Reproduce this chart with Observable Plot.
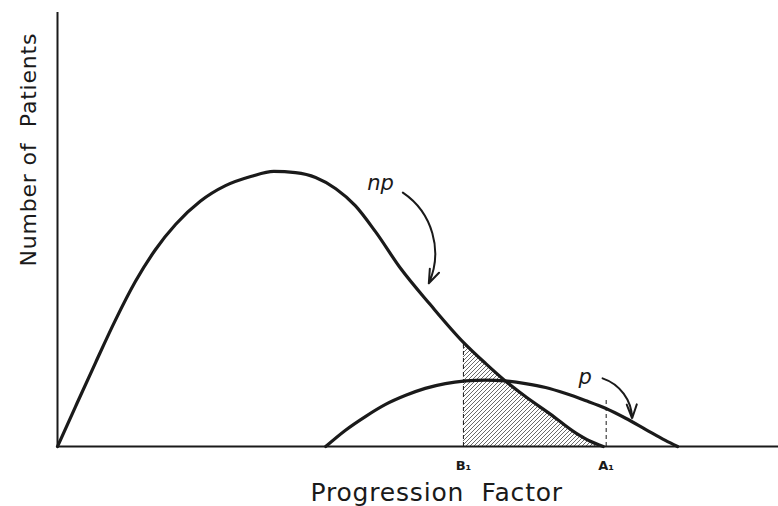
<!DOCTYPE html>
<html>
<head>
<meta charset="utf-8">
<script src="https://cdn.jsdelivr.net/npm/d3@7"></script>
<script src="https://cdn.jsdelivr.net/npm/@observablehq/plot@0.6"></script>
<style>
  html, body { margin: 0; padding: 0; background: #fff; }
  #chart svg { display: block; }
</style>
</head>
<body>
<div id="chart"></div>
<script>
// Curve np (whole population) — x: progression factor, y: number of patients
const npX = [0, 2.5, 5.3, 8.0, 10.8, 13.6, 16.4, 19.8, 23.3, 26.8, 30.0, 33.0, 35.8, 38.6, 41.3, 44.1, 47.6, 51.7, 56.3, 59.4, 61.9, 64.9, 68.4, 71.8, 73.9, 75.7];
const npY = [0, 9.2, 19.4, 29.0, 38.0, 45.4, 51.2, 56.5, 60.1, 62.2, 63.4, 63.1, 62.0, 59.4, 55.5, 49.5, 41.0, 32.7, 24.0, 19.1, 15.4, 11.5, 7.4, 3.2, 1.2, 0];
// Curve p (progressors)
const pX = [37.2, 39.9, 42.7, 45.5, 48.3, 51.0, 53.8, 56.6, 59.4, 62.1, 64.9, 67.7, 70.5, 73.2, 76.0, 78.8, 81.6, 84.3, 86.0];
const pY = [0, 3.7, 6.9, 9.7, 11.8, 13.4, 14.5, 15.1, 15.3, 15.1, 14.5, 13.6, 12.2, 10.6, 8.8, 6.5, 3.9, 1.4, 0];
// Threshold markers
const tickLabels = ["B\u2081", "A\u2081"];
const tickX = [56.3, 76.1];
const tickTop = [24.0, 11.1];
// Curve labels and axis titles
const curveLabels = ["np", "p"];
const xTitle = "Progression  Factor";
const yTitle = "Number of  Patients";

const np = npX.map((x, i) => ({x, y: npY[i]}));
const p = pX.map((x, i) => ({x, y: pY[i]}));
const hatch = np.filter(d => d.x >= tickX[0]);
const markers = tickX.map((x, i) => ({x, top: tickTop[i], label: tickLabels[i]}));

const ink = "#1a1a1a";
const font = "DejaVu Sans, sans-serif";

const svg = Plot.plot({
  width: 778,
  height: 506,
  marginLeft: 57,
  marginRight: 0,
  marginTop: 12,
  marginBottom: 60,
  x: {domain: [0, 100], axis: null},
  y: {domain: [0, 100], axis: null},
  style: {fontFamily: font, color: ink, background: "#fff"},
  marks: [
    Plot.areaY(hatch, {x: "x", y: "y", curve: "monotone-x", fill: "url(#hatch)"}),
    Plot.ruleX(markers, {x: "x", y1: 0, y2: "top", stroke: ink, strokeWidth: 1, strokeDasharray: "4,3"}),
    Plot.ruleY([0], {stroke: ink, strokeWidth: 2}),
    Plot.ruleX([0], {stroke: ink, strokeWidth: 2}),
    Plot.line(np, {x: "x", y: "y", curve: "monotone-x", stroke: ink, strokeWidth: 3.2}),
    Plot.line(p, {x: "x", y: "y", curve: "monotone-x", stroke: ink, strokeWidth: 3.2}),
    Plot.arrow([{x1: 47.9, y1: 58.5, x2: 51.5, y2: 37.6}], {x1: "x1", y1: "y1", x2: "x2", y2: "y2", bend: 40, stroke: ink, strokeWidth: 2, headLength: 11, headAngle: 40}),
    Plot.arrow([{x1: 75.6, y1: 15.7, x2: 79.7, y2: 6.5}], {x1: "x1", y1: "y1", x2: "x2", y2: "y2", bend: 35, stroke: ink, strokeWidth: 2, headLength: 11, headAngle: 40}),
    Plot.text([curveLabels[0]], {x: 44.8, y: 60.6, text: d => d, fontSize: 21, fontStyle: "italic", fill: ink}),
    Plot.text([curveLabels[1]], {x: 73.2, y: 15.9, text: d => d, fontSize: 21, fontStyle: "italic", fill: ink}),
    Plot.text(markers, {x: "x", y: -4.4, text: "label", fontSize: 13, fontWeight: "bold", fill: ink}),
    Plot.text([xTitle], {x: 52.6, y: -10.6, text: d => d, fontSize: 25, fill: ink}),
    Plot.text([yTitle], {x: -4, y: 68.4, text: d => d, fontSize: 22, rotate: -90, fill: ink})
  ]
});

d3.select(svg).selectAll("text")
  .filter(function() { return this.textContent === xTitle || this.textContent === yTitle; })
  .style("letter-spacing", "0.8px");

const defs = d3.select(svg).insert("defs", ":first-child");
const pat = defs.append("pattern")
  .attr("id", "hatch")
  .attr("patternUnits", "userSpaceOnUse")
  .attr("width", 4).attr("height", 4);
pat.append("rect").attr("width", 4).attr("height", 4).attr("fill", "#fff");
pat.append("path")
  .attr("d", "M-1,1 l2,-2 M0,4 l4,-4 M3,5 l2,-2")
  .attr("stroke", "#444").attr("stroke-width", 0.8);

document.getElementById("chart").appendChild(svg);
</script>
</body>
</html>
